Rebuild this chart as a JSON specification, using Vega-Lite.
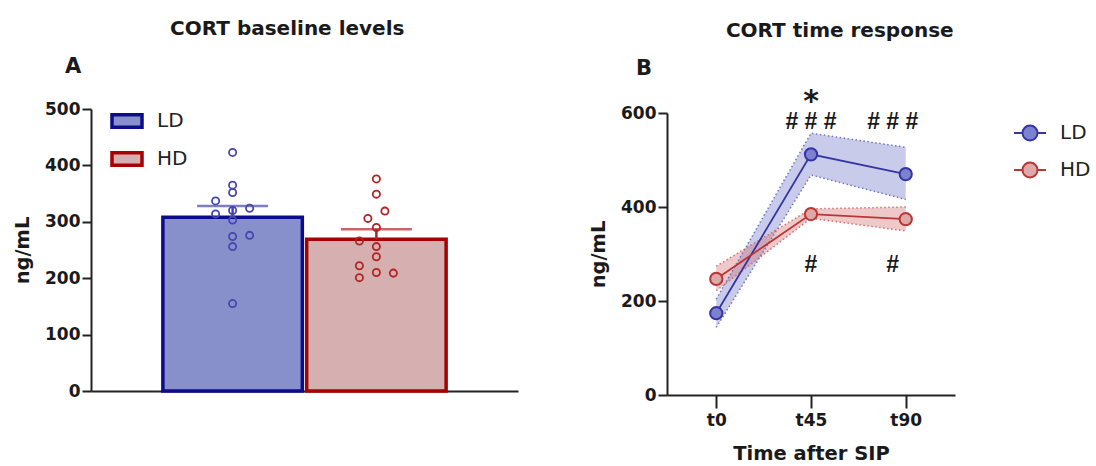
{
  "$schema": "https://vega.github.io/schema/vega-lite/v6.json",
  "padding": {"left": 12, "top": 19, "right": 4, "bottom": 0},
  "background": "white",
  "config": {
    "font": "DejaVu Sans",
    "view": {"stroke": null},
    "axis": {
      "domainColor": "#222222", "domainWidth": 2, "tickColor": "#222222", "tickWidth": 2,
      "labelColor": "#1a1a1a", "titleColor": "#1a1a1a", "grid": false,
      "labelFontSize": 17, "labelFontWeight": "bold", "titleFontSize": 19.5, "titleFontWeight": "bold",
      "labelFont": "DejaVu Sans", "titleFont": "DejaVu Sans"
    },
    "legend": {"labelFont": "DejaVu Sans", "labelColor": "#222222"},
    "title": {"font": "DejaVu Sans", "color": "#1a1a1a", "fontWeight": "bold"}
  },
  "spacing": 70,
  "resolve": {
    "scale": {"x": "independent", "y": "independent", "color": "independent", "fill": "independent", "stroke": "independent"},
    "legend": {"color": "independent", "fill": "independent", "stroke": "independent"}
  },
  "hconcat": [
    {
      "title": {"text": "CORT baseline levels", "fontSize": 20, "anchor": "middle", "frame": "bounds", "offset": 17, "dx": 22},
      "vconcat": [
        {
          "title": {"text": "A", "anchor": "start", "frame": "group", "fontSize": 21, "dx": -26, "offset": 23},
          "width": 427,
          "height": 282,
          "resolve": {"scale": {"xOffset": "independent"}},
          "layer": [
            {
              "data": {"values": [
                {"group": "LD", "mean": 308, "semTop": 328},
                {"group": "HD", "mean": 269, "semTop": 287}
              ]},
              "mark": {"type": "bar", "strokeWidth": 3.5},
              "encoding": {
                "x": {"field": "group", "type": "nominal", "scale": {"domain": ["LD", "HD"], "paddingInner": 0.03, "paddingOuter": 0.5},
                      "axis": {"labels": false, "ticks": false, "title": null}},
                "y": {"field": "mean", "type": "quantitative", "scale": {"domain": [0, 500], "nice": false},
                      "axis": {"values": [0, 100, 200, 300, 400, 500], "tickSize": 9, "labelPadding": 2, "title": "ng/mL", "titlePadding": 12}},
                "fill": {"field": "group", "type": "nominal", "scale": {"domain": ["LD", "HD"], "range": ["#8890cc", "#d6b0b0"]},
                         "legend": {"orient": "none", "legendX": 19, "legendY": -5, "title": null, "symbolType": "M-1,-0.42H1V0.42H-1Z", "symbolSize": 900, "symbolStrokeWidth": 3.5, "labelFontSize": 20, "labelFontWeight": "normal", "labelOffset": 13, "rowPadding": 7, "padding": 0}},
                "stroke": {"field": "group", "type": "nominal", "scale": {"domain": ["LD", "HD"], "range": ["#0c0c8a", "#a60000"]},
                         "legend": {"orient": "none", "legendX": 19, "legendY": -5, "title": null, "symbolType": "M-1,-0.42H1V0.42H-1Z", "symbolSize": 900, "symbolStrokeWidth": 3.5, "labelFontSize": 20, "labelFontWeight": "normal", "labelOffset": 13, "rowPadding": 7, "padding": 0}}
              }
            },
            {
              "data": {"values": [
                {"group": "LD", "mean": 308, "semTop": 328},
                {"group": "HD", "mean": 269, "semTop": 287}
              ]},
              "mark": {"type": "rule", "strokeWidth": 2.5},
              "encoding": {
                "x": {"field": "group", "type": "nominal"},
                "y": {"field": "mean", "type": "quantitative", "title": "ng/mL"},
                "y2": {"field": "semTop"},
                "color": {"field": "group", "type": "nominal", "scale": {"domain": ["LD", "HD"], "range": ["#4646ae", "#b02424"]}, "legend": null}
              }
            },
            {
              "data": {"values": [
                {"group": "LD", "mean": 308, "semTop": 328},
                {"group": "HD", "mean": 269, "semTop": 287}
              ]},
              "mark": {"type": "tick", "thickness": 2.5, "size": 71},
              "encoding": {
                "x": {"field": "group", "type": "nominal"},
                "y": {"field": "semTop", "type": "quantitative", "title": "ng/mL"},
                "color": {"field": "group", "type": "nominal", "legend": null}
              }
            },
            {
              "data": {"values": [
                {"group": "LD", "value": 423, "jit": 0},
                {"group": "LD", "value": 365, "jit": 0},
                {"group": "LD", "value": 352, "jit": 0},
                {"group": "LD", "value": 337, "jit": -2},
                {"group": "LD", "value": 314, "jit": -2},
                {"group": "LD", "value": 320, "jit": 0},
                {"group": "LD", "value": 324, "jit": 2},
                {"group": "LD", "value": 303, "jit": 0},
                {"group": "LD", "value": 274, "jit": 0},
                {"group": "LD", "value": 276, "jit": 2},
                {"group": "LD", "value": 256, "jit": 0},
                {"group": "LD", "value": 155, "jit": 0},
                {"group": "HD", "value": 376, "jit": 0},
                {"group": "HD", "value": 349, "jit": 0},
                {"group": "HD", "value": 319, "jit": 1},
                {"group": "HD", "value": 306, "jit": -1},
                {"group": "HD", "value": 290, "jit": 0},
                {"group": "HD", "value": 266, "jit": -2},
                {"group": "HD", "value": 256, "jit": 0},
                {"group": "HD", "value": 238, "jit": 0},
                {"group": "HD", "value": 222, "jit": -2},
                {"group": "HD", "value": 201, "jit": -2},
                {"group": "HD", "value": 210, "jit": 0},
                {"group": "HD", "value": 209, "jit": 2}
              ]},
              "mark": {"type": "point", "shape": "circle", "filled": false, "size": 52, "strokeWidth": 1.8, "opacity": 1},
              "encoding": {
                "x": {"field": "group", "type": "nominal"},
                "xOffset": {"field": "jit", "type": "quantitative", "scale": {"domain": [-8.2, 8.2]}},
                "y": {"field": "value", "type": "quantitative", "title": "ng/mL"},
                "color": {"field": "group", "type": "nominal", "legend": null}
              }
            }
          ]
        }
      ]
    },
    {
      "title": {"text": "CORT time response", "fontSize": 20, "anchor": "middle", "frame": "bounds", "offset": 17},
      "vconcat": [
        {
          "title": {"text": "B", "anchor": "start", "frame": "group", "fontSize": 21, "dx": -31, "offset": 8},
          "width": 288,
          "height": 286,
          "data": {"values": [
            {"group": "LD", "time": "t0", "mean": 174, "lo": 144, "hi": 204},
            {"group": "LD", "time": "t45", "mean": 512, "lo": 468, "hi": 557},
            {"group": "LD", "time": "t90", "mean": 470, "lo": 416, "hi": 527},
            {"group": "HD", "time": "t0", "mean": 247, "lo": 222, "hi": 274},
            {"group": "HD", "time": "t45", "mean": 385, "lo": 376, "hi": 396},
            {"group": "HD", "time": "t90", "mean": 374, "lo": 349, "hi": 400}
          ]},
          "layer": [
            {
              "mark": {"type": "area", "opacity": 0.36},
              "encoding": {
                "x": {"field": "time", "type": "ordinal", "scale": {"type": "point", "domain": ["t0", "t45", "t90"], "padding": 0.52},
                      "axis": {"title": "Time after SIP", "labelAngle": 0, "tickSize": 13, "labelPadding": 4, "titlePadding": 16}},
                "y": {"field": "lo", "type": "quantitative", "scale": {"domain": [0, 600], "nice": false, "range": [286, 4]},
                      "axis": {"values": [0, 200, 400, 600], "tickSize": 9, "labelPadding": 2, "title": "ng/mL", "titlePadding": 12}},
                "y2": {"field": "hi"},
                "color": {"field": "group", "type": "nominal", "scale": {"domain": ["HD", "LD"], "range": ["#d46a6a", "#6a6fc6"]}, "legend": null}
              }
            },
            {
              "mark": {"type": "line", "strokeWidth": 1.5, "strokeDash": [1.5, 2.5], "opacity": 0.95},
              "encoding": {
                "x": {"field": "time", "type": "ordinal"},
                "y": {"field": "lo", "type": "quantitative", "title": "ng/mL"},
                "color": {"field": "group", "type": "nominal", "legend": null}
              }
            },
            {
              "mark": {"type": "line", "strokeWidth": 1.5, "strokeDash": [1.5, 2.5], "opacity": 0.95},
              "encoding": {
                "x": {"field": "time", "type": "ordinal"},
                "y": {"field": "hi", "type": "quantitative", "title": "ng/mL"},
                "color": {"field": "group", "type": "nominal", "legend": null}
              }
            },
            {
              "mark": {"type": "line", "strokeWidth": 1.8},
              "encoding": {
                "x": {"field": "time", "type": "ordinal"},
                "y": {"field": "mean", "type": "quantitative", "title": "ng/mL"},
                "stroke": {"field": "group", "type": "nominal", "scale": {"domain": ["LD", "HD"], "range": ["#3535a5", "#bb3535"]},
                         "legend": {"orient": "none", "legendX": 346, "legendY": 7, "title": null, "symbolType": "M-1,0H-0.47M0.47,0H1M-0.47,0A0.47,0.47,0,1,1,0.47,0A0.47,0.47,0,1,1,-0.47,0Z", "symbolSize": 1024, "symbolStrokeWidth": 2, "labelFontSize": 20, "labelFontWeight": "normal", "labelOffset": 13, "rowPadding": 8, "padding": 0}}
              }
            },
            {
              "mark": {"type": "point", "shape": "circle", "filled": true, "size": 150, "strokeWidth": 2, "opacity": 1},
              "encoding": {
                "x": {"field": "time", "type": "ordinal"},
                "y": {"field": "mean", "type": "quantitative", "title": "ng/mL"},
                "fill": {"field": "group", "type": "nominal", "scale": {"domain": ["LD", "HD"], "range": ["#7d82cf", "#dca8a8"]},
                         "legend": {"orient": "none", "legendX": 346, "legendY": 7, "title": null, "symbolType": "M-1,0H-0.47M0.47,0H1M-0.47,0A0.47,0.47,0,1,1,0.47,0A0.47,0.47,0,1,1,-0.47,0Z", "symbolSize": 1024, "symbolStrokeWidth": 2, "labelFontSize": 20, "labelFontWeight": "normal", "labelOffset": 13, "rowPadding": 8, "padding": 0}},
                "stroke": {"field": "group", "type": "nominal",
                         "legend": {"orient": "none", "legendX": 346, "legendY": 7, "title": null, "symbolType": "M-1,0H-0.47M0.47,0H1M-0.47,0A0.47,0.47,0,1,1,0.47,0A0.47,0.47,0,1,1,-0.47,0Z", "symbolSize": 1024, "symbolStrokeWidth": 2, "labelFontSize": 20, "labelFontWeight": "normal", "labelOffset": 13, "rowPadding": 8, "padding": 0}}
              }
            },
            {
              "data": {"values": [
                {"time": "t45", "y": 624, "label": "*"}
              ]},
              "mark": {"type": "text", "font": "DejaVu Sans", "fontWeight": "bold", "fontSize": 30, "baseline": "middle", "align": "center", "color": "#1a1a1a"},
              "encoding": {
                "x": {"field": "time", "type": "ordinal"},
                "y": {"field": "y", "type": "quantitative", "title": "ng/mL"},
                "text": {"field": "label"}
              }
            },
            {
              "data": {"values": [
                {"time": "t45", "y": 581, "label": "# # #"},
                {"time": "t45", "y": 277, "label": "#"}
              ]},
              "mark": {"type": "text", "font": "Liberation Sans", "fontWeight": "bold", "fontSize": 23, "baseline": "middle", "align": "center", "color": "#1a1a1a"},
              "encoding": {
                "x": {"field": "time", "type": "ordinal"},
                "y": {"field": "y", "type": "quantitative", "title": "ng/mL"},
                "text": {"field": "label"}
              }
            },
            {
              "data": {"values": [
                {"time": "t90", "y": 581, "label": "# # #"},
                {"time": "t90", "y": 277, "label": "#"}
              ]},
              "mark": {"type": "text", "font": "Liberation Sans", "fontWeight": "bold", "fontSize": 23, "baseline": "middle", "align": "center", "dx": -13, "color": "#1a1a1a"},
              "encoding": {
                "x": {"field": "time", "type": "ordinal"},
                "y": {"field": "y", "type": "quantitative", "title": "ng/mL"},
                "text": {"field": "label"}
              }
            }
          ]
        }
      ]
    }
  ]
}
